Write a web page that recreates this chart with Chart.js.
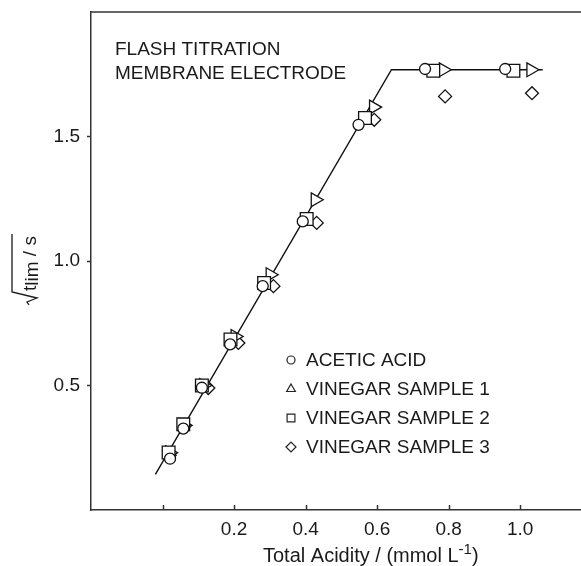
<!DOCTYPE html>
<html>
<head>
<meta charset="utf-8">
<script src="https://cdn.jsdelivr.net/npm/chart.js@4.4.0/dist/chart.umd.min.js"></script>
<style>
html,body{margin:0;padding:0;background:#fff;overflow:hidden;}
#wrap{width:581px;height:566px;position:relative;}
</style>
</head>
<body>
<div id="wrap"><canvas id="mycanvas"></canvas></div>
<script>
// series names (legend order)
var seriesNames = ['ACETIC ACID', 'VINEGAR SAMPLE 1', 'VINEGAR SAMPLE 2', 'VINEGAR SAMPLE 3'];

// acetic acid (circles)
var aceticX = [0.021, 0.058, 0.110, 0.189, 0.280, 0.392, 0.548, 0.734, 0.958];
var aceticY = [0.206, 0.327, 0.491, 0.665, 0.899, 1.159, 1.547, 1.771, 1.771];
// vinegar sample 1 (triangles)
var vin1X = [0.020, 0.060, 0.115, 0.203, 0.301, 0.427, 0.590, 0.785, 1.030];
var vin1Y = [0.230, 0.340, 0.500, 0.697, 0.945, 1.246, 1.618, 1.768, 1.768];
// vinegar sample 2 (squares)
var vin2X = [0.017, 0.058, 0.110, 0.190, 0.284, 0.403, 0.566, 0.757, 0.981];
var vin2Y = [0.231, 0.344, 0.500, 0.685, 0.912, 1.169, 1.574, 1.764, 1.764];
// vinegar sample 3 (diamonds)
var vin3X = [0.020, 0.060, 0.128, 0.212, 0.310, 0.431, 0.592, 0.790, 1.033];
var vin3Y = [0.220, 0.335, 0.490, 0.671, 0.899, 1.153, 1.567, 1.661, 1.674];
// fitted line
var fitX = [-0.02, 0.64, 1.063];
var fitY = [0.143, 1.768, 1.768];

var xTicks = [0, 0.2, 0.4, 0.6, 0.8, 1.0];
var yTicks = [0.5, 1.0, 1.5];
var noteLines = ['FLASH TITRATION', 'MEMBRANE ELECTRODE'];

var FONT = '"Liberation Sans", Arial, Helvetica, sans-serif';
var INK = '#1a1a1a';

function pts(xs, ys) {
	return xs.map(function(x, i) { return {x: x, y: ys[i]}; });
}

var markerStyles = [
	{pointStyle: 'circle', radius: 5.5, rotation: 0, legendRadius: 4},
	{pointStyle: 'triangle', radius: 8, rotation: 90, legendRadius: 5},
	{pointStyle: 'rect', radius: 9, rotation: 0, legendRadius: 5.5},
	{pointStyle: 'rectRot', radius: 6.5, rotation: 0, legendRadius: 5}
];

function markerSet(i, xs, ys) {
	var m = markerStyles[i];
	return {
		label: seriesNames[i],
		data: pts(xs, ys),
		showLine: false,
		pointStyle: m.pointStyle,
		pointRadius: m.radius,
		pointHoverRadius: m.radius,
		pointRotation: m.rotation,
		pointBackgroundColor: '#fff',
		pointBorderColor: '#111',
		pointBorderWidth: 1.3
	};
}

// circle on top, then square, triangle, diamond, line at the bottom
var datasets = [
	markerSet(0, aceticX, aceticY),
	markerSet(2, vin2X, vin2Y),
	markerSet(1, vin1X, vin1Y),
	markerSet(3, vin3X, vin3Y),
	{
		label: 'fit',
		type: 'line',
		data: pts(fitX, fitY),
		borderColor: '#111',
		borderWidth: 1.4,
		pointRadius: 0,
		fill: false,
		tension: 0
	}
];

var decor = {
	id: 'decor',
	afterDraw: function(chart) {
		var ctx = chart.ctx, a = chart.chartArea;
		var xs = chart.scales.x;
		ctx.save();
		// top frame line
		ctx.strokeStyle = '#333';
		ctx.lineWidth = 1.5;
		ctx.beginPath();
		ctx.moveTo(a.left, a.top);
		ctx.lineTo(a.right, a.top);
		ctx.stroke();
		// inward x ticks
		xTicks.forEach(function(v) {
			var px = Math.round(xs.getPixelForValue(v)) + 0.5;
			ctx.beginPath();
			ctx.moveTo(px, a.bottom);
			ctx.lineTo(px, a.bottom - 5);
			ctx.stroke();
		});

		ctx.fillStyle = INK;
		ctx.textBaseline = 'alphabetic';
		ctx.textAlign = 'left';
		ctx.font = '19px ' + FONT;
		// note in the top-left corner
		noteLines.forEach(function(t, i) {
			ctx.fillText(t, a.left + 24, a.top + 43 + i * 24);
		});

		// legend
		var lx = 291, ly = 360;
		seriesNames.forEach(function(name, i) {
			var m = markerStyles[i];
			var y = ly + i * 29;
			ctx.fillStyle = '#fff';
			ctx.strokeStyle = '#222';
			ctx.lineWidth = 1.2;
			Chart.helpers.drawPoint(ctx, {pointStyle: m.pointStyle, radius: m.legendRadius, rotation: 0, borderWidth: 1.2}, lx, y);
			ctx.fillStyle = INK;
			ctx.textBaseline = 'middle';
			ctx.font = '19px ' + FONT;
			ctx.fillText(name, 306, y + 1);
		});

		// x axis title with superscript
		ctx.textBaseline = 'alphabetic';
		var tx = 263, ty = 562;
		var part1 = 'Total Acidity / (mmol L';
		ctx.font = '20px ' + FONT;
		ctx.fillText(part1, tx, ty);
		tx += ctx.measureText(part1).width;
		ctx.font = '15px ' + FONT;
		ctx.fillText('-1', tx, ty - 8);
		tx += ctx.measureText('-1').width;
		ctx.font = '20px ' + FONT;
		ctx.fillText(')', tx, ty);

		// y axis title: sqrt(t_lim) / s, rotated
		ctx.translate(36, 300);
		ctx.rotate(-Math.PI / 2);
		ctx.font = '19px ' + FONT;
		var cx = 9;
		ctx.fillText('t', cx, 0);
		cx += ctx.measureText('t').width;
		ctx.fillText('lim', cx, 2);
		cx += ctx.measureText('lim').width;
		ctx.fillText(' / s', cx, 0);
		cx += ctx.measureText(' / s').width;
		ctx.strokeStyle = INK;
		ctx.lineWidth = 1.3;
		ctx.beginPath();
		ctx.moveTo(-5, -7);
		ctx.lineTo(-2, -9);
		ctx.lineTo(2, 1);
		ctx.lineTo(8, -24);
		ctx.lineTo(cx + 2, -24);
		ctx.stroke();
		ctx.restore();
	}
};

var ctx = document.getElementById('mycanvas');

var chart = new Chart(ctx, {
	type: 'scatter',
	data: {datasets: datasets},
	options: {
		responsive: true,
		maintainAspectRatio: false,
		animation: false,
		events: [],
		layout: {autoPadding: false, padding: {top: 12, left: 0, right: 0, bottom: 0}},
		plugins: {
			legend: {display: false},
			tooltip: {enabled: false}
		},
		scales: {
			x: {
				type: 'linear',
				min: -0.2,
				max: 1.17,
				afterBuildTicks: function(s) {
					s.ticks = xTicks.map(function(v) { return {value: v}; });
				},
				afterFit: function(s) {
					s.height = 56;
					s.paddingLeft = 0;
					s.paddingRight = 0;
				},
				grid: {drawOnChartArea: false, drawTicks: false},
				border: {color: '#333', width: 1.5},
				ticks: {
					autoSkip: false,
					maxRotation: 0,
					padding: 8,
					color: INK,
					font: {family: FONT, size: 19},
					callback: function(v) { return v === 0 ? '' : v.toFixed(1); }
				}
			},
			y: {
				type: 'linear',
				min: 0,
				max: 2,
				afterBuildTicks: function(s) {
					s.ticks = yTicks.map(function(v) { return {value: v}; });
				},
				afterFit: function(s) {
					s.width = 91;
					s.paddingTop = 0;
					s.paddingBottom = 0;
				},
				grid: {drawOnChartArea: false, drawTicks: true, tickLength: 4, tickColor: '#333', tickWidth: 1.5},
				border: {color: '#333', width: 1.5},
				ticks: {
					padding: 7,
					color: INK,
					font: {family: FONT, size: 19},
					callback: function(v) { return v.toFixed(1); }
				}
			}
		}
	},
	plugins: [decor]
});
</script>
</body>
</html>
